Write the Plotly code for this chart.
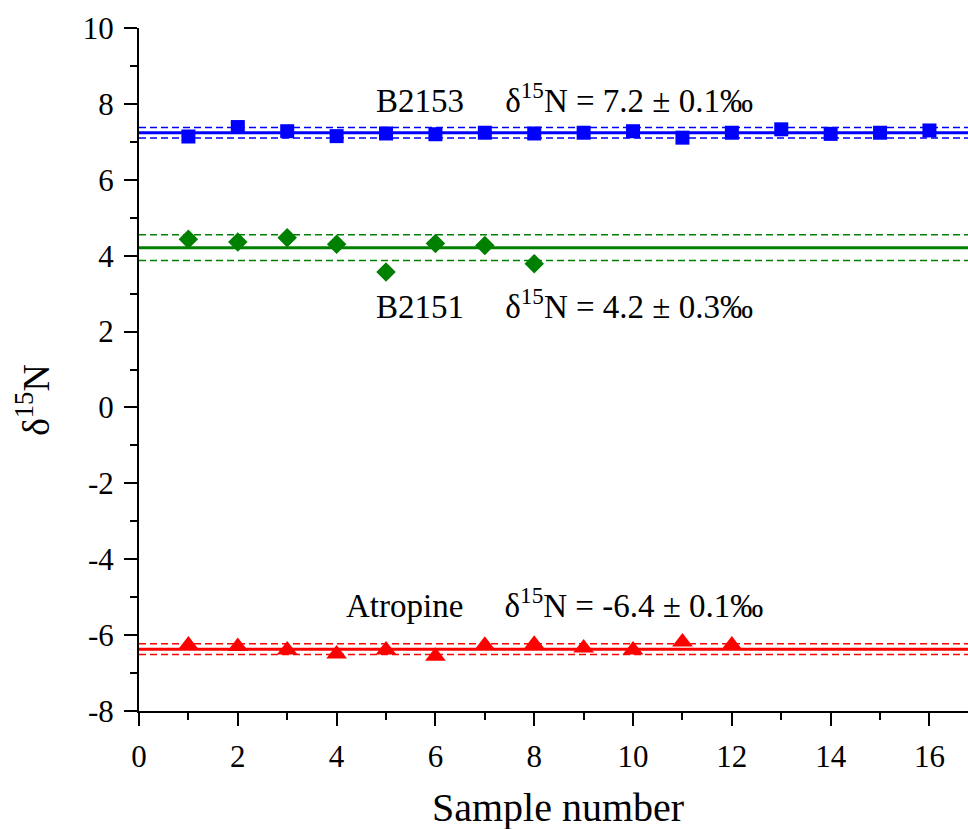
import plotly.graph_objects as go

# Measured δ15N values per sample
samples_b2153 = list(range(1, 17))
d15n_b2153 = [7.14, 7.39, 7.28, 7.15, 7.22, 7.20, 7.24, 7.22,
              7.24, 7.28, 7.11, 7.24, 7.33, 7.21, 7.24, 7.30]

samples_b2151 = list(range(1, 9))
d15n_b2151 = [4.43, 4.36, 4.47, 4.30, 3.57, 4.32, 4.27, 3.79]

samples_atropine = list(range(1, 13))
d15n_atropine = [-6.26, -6.30, -6.39, -6.50, -6.39, -6.56,
                 -6.27, -6.24, -6.34, -6.39, -6.18, -6.26]

# Reference materials: mean and standard deviation
names = ["B2153", "B2151", "Atropine"]
means = [7.24, 4.21, -6.37]
sds = [0.14, 0.34, 0.14]

# Axis ticks
x_tickvals = [0, 2, 4, 6, 8, 10, 12, 14, 16]
x_ticktext = [str(v) for v in x_tickvals]
y_tickvals = [-8, -6, -4, -2, 0, 2, 4, 6, 8, 10]
y_ticktext = [str(v) for v in y_tickvals]

# Styling
colors = ["#0000FF", "#008000", "#FF0000"]
symbols = ["square", "diamond", "triangle-up"]
marker_sizes = [14, 15, 18]
label_x = [8.62, 8.62, 8.42]
label_y = [8.15, 2.72, -5.15]
FONT = "Liberation Serif, Times New Roman, serif"
X_RANGE = [0, 16.78]
Y_RANGE = [-8, 10]
LINE_X = [0, 17]

series = [
    (samples_b2153, d15n_b2153),
    (samples_b2151, d15n_b2151),
    (samples_atropine, d15n_atropine),
]

fig = go.Figure()

for (xs, ys), name, m, s, c, sym, ms in zip(series, names, means, sds,
                                            colors, symbols, marker_sizes):
    # mean line
    fig.add_trace(go.Scatter(x=LINE_X, y=[m, m], mode="lines",
                             line=dict(color=c, width=3), hoverinfo="skip",
                             showlegend=False))
    # ± sd lines
    for bound in (m - s, m + s):
        fig.add_trace(go.Scatter(x=LINE_X, y=[bound, bound], mode="lines",
                                 line=dict(color=c, width=1.5, dash="7px,4px"),
                                 hoverinfo="skip", showlegend=False))
    # measurements
    fig.add_trace(go.Scatter(x=xs, y=ys, mode="markers", name=name,
                             marker=dict(symbol=sym, size=ms, color=c,
                                         line=dict(width=0)),
                             showlegend=False))

nbsp = "\u00a0"
for name, m, s, lx, ly in zip(names, means, sds, label_x, label_y):
    text = f"{name}{nbsp * 5}δ<sup>15</sup>N = {m:.1f} ± {s:.1f}‰"
    fig.add_annotation(x=lx, y=ly, xref="x", yref="y", text=text,
                       showarrow=False, xanchor="center", yanchor="middle",
                       font=dict(family=FONT, size=33, color="black"))

# axis titles
fig.add_annotation(x=0.505, y=-0.142, xref="paper", yref="paper",
                   text="Sample number", showarrow=False,
                   xanchor="center", yanchor="middle",
                   font=dict(family=FONT, size=40, color="black"))
fig.add_annotation(x=-0.128, y=0.455, xref="paper", yref="paper",
                   text="δ<sup>15</sup>N", showarrow=False, textangle=-90,
                   xanchor="center", yanchor="middle",
                   font=dict(family=FONT, size=38, color="black"))

tick_font = dict(family=FONT, size=31, color="black")
axis_style = dict(showline=True, linecolor="black", linewidth=2,
                  ticks="outside", ticklen=13, tickwidth=2, tickcolor="black",
                  showgrid=False, zeroline=False, automargin=False,
                  tickfont=tick_font, ticklabelstandoff=4,
                  minor=dict(ticks="outside", dtick=1, tick0=0, ticklen=7,
                             tickwidth=2, tickcolor="black"))

fig.update_layout(
    width=968, height=829,
    margin=dict(l=139, r=0, t=28, b=118),
    plot_bgcolor="white", paper_bgcolor="white",
    font=dict(family=FONT, size=31, color="black"),
    showlegend=False,
)
fig.update_xaxes(range=X_RANGE, tickmode="array", tickvals=x_tickvals,
                 ticktext=x_ticktext, **axis_style)
fig.update_yaxes(range=Y_RANGE, tickmode="array", tickvals=y_tickvals,
                 ticktext=y_ticktext, **axis_style)

fig.write_html("out.html")
